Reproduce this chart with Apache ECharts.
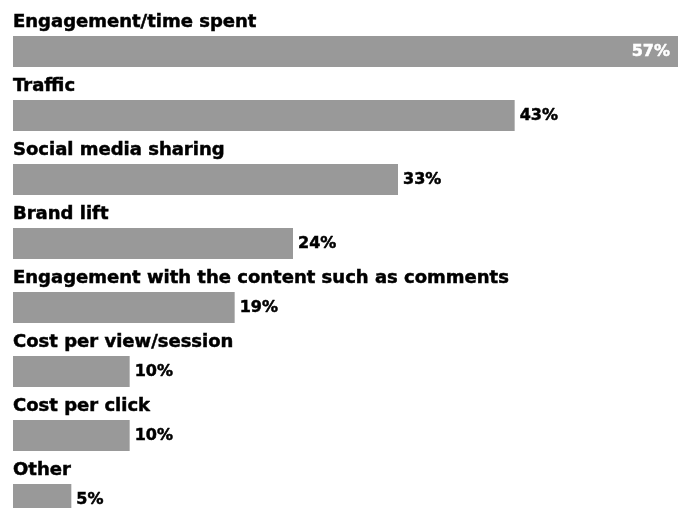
<!DOCTYPE html>
<html style="height: 100%">
<head>
  <meta charset="utf-8" />
  <script src="https://cdn.jsdelivr.net/npm/echarts@6/dist/echarts.min.js"></script>
</head>
<body style="height: 100%; margin: 0; overflow: hidden; background: #fff">
  <div id="container" style="width: 683px; height: 508px"></div>
  <script>
    // data
    var categories = [
      "Engagement/time spent",
      "Traffic",
      "Social media sharing",
      "Brand lift",
      "Engagement with the content such as comments",
      "Cost per view/session",
      "Cost per click",
      "Other"
    ];
    var values = [57, 43, 33, 24, 19, 10, 10, 5];
    var axisMax = 57;

    var FONT = "DejaVu Sans";
    var myChart = echarts.init(document.getElementById("container"), null, { renderer: "canvas" });

    var option = {
      animation: false,
      // last bar runs off the bottom edge, like the reference
      grid: { left: 13, right: 5, top: 19.5, height: 512, outerBoundsMode: "none" },
      xAxis: { type: "value", min: 0, max: axisMax, show: false },
      yAxis: { type: "category", data: categories, inverse: true, show: false },
      series: [
        {
          // invisible full-width bar that carries the category name above each bar
          type: "bar",
          barWidth: 31,
          barGap: "-100%",
          silent: true,
          itemStyle: { color: "transparent" },
          data: categories.map(function () { return axisMax; }),
          label: {
            show: true,
            position: [0, -5],
            verticalAlign: "bottom",
            formatter: function (p) { return p.name; },
            color: "#000",
            fontFamily: FONT,
            fontWeight: "bold",
            fontSize: 18,
            // a thin outline to get closer to the heavy weight of the original
            textBorderColor: "#000",
            textBorderWidth: 0.5
          },
          z: 1
        },
        {
          type: "bar",
          barWidth: 31,
          itemStyle: { color: "#999999" },
          data: values.map(function (v, i) {
            var d = { value: v };
            if (i === 0) {
              d.label = { position: "insideRight", color: "#fff", textBorderColor: "#fff", distance: 8 };
            }
            return d;
          }),
          label: {
            show: true,
            position: "right",
            distance: 5,
            formatter: "{c}%",
            color: "#000",
            fontFamily: FONT,
            fontWeight: "bold",
            fontSize: 16,
            textBorderColor: "#000",
            textBorderWidth: 0.5
          },
          z: 2
        }
      ]
    };
    myChart.setOption(option);
  </script>
</body>
</html>
